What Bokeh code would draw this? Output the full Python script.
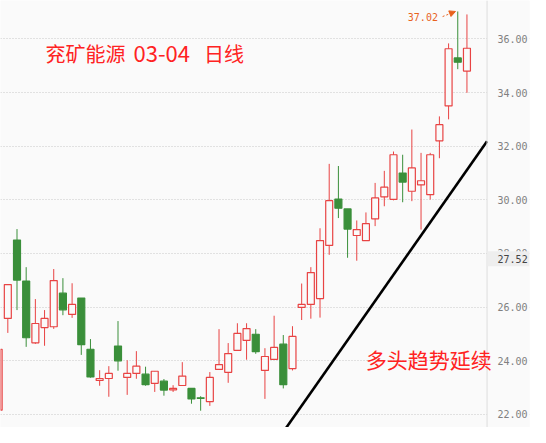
from bokeh.plotting import figure
from bokeh.models import (Range1d, FixedTicker, PrintfTickFormatter, Label, Arrow,
                          NormalHead, ColumnDataSource, BoxAnnotation, Span)
from bokeh.embed import file_html
from bokeh.resources import INLINE

# ---- data (daily candles) ----
opens = [22.16, 25.58, 28.50, 26.97, 24.67, 25.24, 25.27, 26.52, 25.73, 26.34,
         24.43, 23.27, 23.34, 24.55, 23.38, 23.53, 23.50, 23.16, 23.24, 22.92,
         23.08, 22.97, 22.62, 22.48, 23.68, 23.57, 24.39, 24.76, 24.99, 23.64,
         24.05, 24.62, 23.71, 25.99, 26.10, 26.32, 28.30, 30.03, 29.66, 28.67,
         28.48, 29.29, 30.11, 30.02, 31.00, 30.32, 30.56, 30.19, 32.20, 33.50,
         35.29, 34.80]
highs = [24.43, 26.84, 28.91, 27.49, 26.30, 25.89, 27.42, 27.08, 26.89, 26.34,
         24.81, 23.65, 23.80, 25.48, 24.02, 24.36, 23.78, 23.61, 23.32, 23.09,
         23.95, 22.97, 22.68, 23.58, 25.18, 24.66, 25.40, 25.40, 25.18, 24.47,
         25.68, 24.96, 25.29, 26.88, 27.49, 28.94, 31.34, 31.26, 29.66, 29.23,
         29.53, 30.63, 31.08, 31.80, 31.68, 32.62, 31.75, 31.75, 33.11, 35.83,
         37.02, 36.91]
lows = [22.16, 25.04, 25.89, 24.52, 24.63, 24.56, 25.19, 25.70, 25.60, 24.22,
        23.37, 23.07, 22.66, 23.63, 22.73, 23.33, 23.07, 22.84, 22.70, 22.84,
        23.08, 22.40, 22.14, 22.32, 23.68, 23.18, 24.39, 24.04, 24.26, 22.58,
        24.05, 22.97, 23.64, 25.52, 25.57, 25.61, 27.95, 29.32, 27.84, 27.73,
        28.48, 29.02, 29.76, 29.98, 29.91, 29.95, 28.89, 30.01, 31.55, 33.00,
        34.87, 33.99]
closes = [24.43, 26.84, 27.01, 24.86, 25.39, 25.58, 26.99, 25.90, 26.10, 24.60,
          23.40, 23.34, 23.53, 24.00, 23.53, 23.80, 23.11, 23.61, 22.91, 22.97,
          23.43, 22.58, 22.60, 23.38, 23.86, 24.27, 25.02, 25.20, 24.34, 24.16,
          24.50, 23.11, 24.91, 26.10, 27.29, 28.48, 29.97, 29.69, 28.91, 28.89,
          29.11, 30.07, 30.47, 31.68, 30.66, 31.19, 30.71, 31.68, 32.80, 35.63,
          35.13, 35.65]
tick_values = [22, 24, 26, 28, 30, 32, 34, 36]
trend_x = [31.0, 53.19]
trend_y = [21.35, 32.18]
title_name = "兖矿能源"
title_date = "03-04"
title_tail = "日线"
note_text = "多头趋势延续"
price_tag = 27.52

# ---- styling ----
UP = "#e84343"
DOWN = "#3a8f3a"
BG = "#fafafa"
ORANGE = "#e8621e"
TITLE_RED = "#ff2222"

idx = list(range(len(opens)))
is_up = [c >= o for o, c in zip(opens, closes)]
src = ColumnDataSource(dict(
    x=idx, high=highs, low=lows,
    top=[max(o, c) for o, c in zip(opens, closes)],
    bottom=[min(o, c) for o, c in zip(opens, closes)],
    color=[UP if u else DOWN for u in is_up],
    fill=[BG if u else DOWN for u in is_up],
))

X0, X1 = 0.203, 57.812       # full-width frame; price area ends at SEP
SEP = 53.19

p = figure(width=530, height=427,
           x_range=Range1d(X0, X1), y_range=Range1d(21.514, 37.429),
           x_axis_location=None, y_axis_location="right",
           toolbar_location=None, output_backend="svg",
           min_border_left=0, min_border_right=0, min_border_top=0, min_border_bottom=0,
           background_fill_color=BG, border_fill_color=BG, outline_line_color=None)

p.xgrid.visible = False
p.ygrid.ticker = FixedTicker(ticks=tick_values)
p.ygrid.grid_line_color = "#c8c8c8"
p.ygrid.grid_line_dash = "1 2"
p.ygrid.grid_line_width = 1

# price-scale strip (covers the grid to the right of the separator)
p.add_layout(BoxAnnotation(left=SEP, fill_color=BG, fill_alpha=1.0, line_color=None,
                           level="underlay"))
p.add_layout(Span(location=SEP, dimension="height", line_color="#dddddd", line_width=1))

ax = p.yaxis[0]
ax.ticker = FixedTicker(ticks=tick_values)
ax.formatter = PrintfTickFormatter(format="%.2f")
ax.major_tick_line_color = None
ax.minor_tick_line_color = None
ax.major_tick_out = 0
ax.major_tick_in = 0
ax.axis_line_color = None
ax.major_label_standoff = -32
ax.major_label_text_font = "DejaVu Sans Mono"
ax.major_label_text_font_size = "10px"
ax.major_label_text_color = "#808080"

# candles
p.segment(x0="x", y0="low", x1="x", y1="high", line_color="color", line_width=1, source=src)
p.vbar(x="x", width=0.76, top="top", bottom="bottom", fill_color="fill",
       line_color="color", line_width=1.2, source=src)

# trend line
p.line(trend_x, trend_y, line_color="black", line_width=2.6)

# max-high marker
hi_i = highs.index(max(highs))
hi_v = highs[hi_i]
p.add_layout(Label(x=hi_i - 2.16, y=hi_v - 0.21, text=f"{hi_v:.2f}",
                   text_align="right", text_baseline="middle",
                   text_font="DejaVu Sans Mono", text_font_size="10px", text_color=ORANGE))
p.add_layout(Arrow(end=NormalHead(size=6, fill_color=ORANGE, line_color=ORANGE, line_width=1),
                   x_start=hi_i - 1.65, y_start=hi_v - 0.19, x_end=hi_i - 0.25, y_end=hi_v,
                   line_color=ORANGE, line_width=1, line_dash="2 2"))

# titles / notes
def add_text(txt, x, y, size):
    p.add_layout(Label(x=x, y=y, x_units="screen", y_units="screen", text=txt,
                       text_align="left", text_baseline="middle",
                       text_font="Noto Sans CJK SC", text_font_size=size,
                       text_color=TITLE_RED))

add_text(title_name, 45, 374, "20px")
add_text(title_date, 133, 374, "22px")
add_text(title_tail, 203.5, 374, "20px")
add_text(note_text, 365.3, 68.7, "21px")

# price tag on the scale
p.add_layout(BoxAnnotation(left=SEP + 0.05, bottom=price_tag, top=price_tag + 0.56,
                           fill_color="#eeeeee", fill_alpha=1.0, line_color=None))
p.add_layout(Label(x=X1 - 0.2, y=price_tag + 0.28, text=f"{price_tag:.2f}",
                   text_align="right", text_baseline="middle",
                   text_font="DejaVu Sans Mono", text_font_size="10px", text_color="#444444"))

open("out.html", "w", encoding="utf-8").write(file_html(p, INLINE))
